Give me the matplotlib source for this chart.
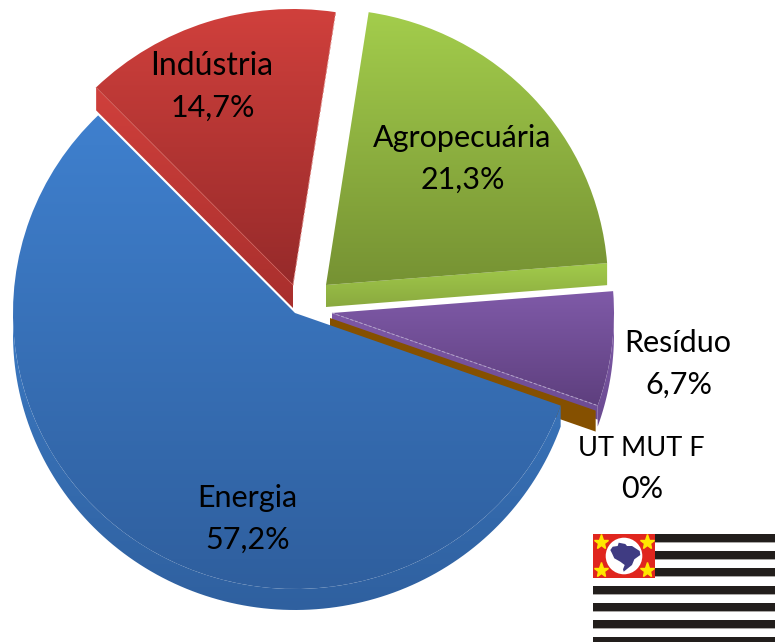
import matplotlib
matplotlib.use("Agg")
import matplotlib.pyplot as plt
import numpy as np
from matplotlib.colors import LinearSegmentedColormap
from matplotlib.patches import Circle, Polygon, Rectangle
from matplotlib.transforms import Affine2D

# values, clockwise from the top
categorias = ["Agropecuária", "Resíduo", "UT MUT F", "Energia", "Indústria"]
valores = [21.3, 6.7, 0, 57.2, 14.7]
rotulos = ["21,3%", "6,7%", "0%", "57,2%", "14,7%"]

# label position, pixels (baseline of the first line)
texto_x = [462, 678, 641, 247, 212]
texto_y = [147, 352, 456, 507, 75]
tamanhos = [22, 22, 19.5, 22, 23]

RX, RY, DEPTH = 282, 276, 21
START = 81.3

plt.rcParams["font.family"] = ["Lato", "DejaVu Sans"]

fig = plt.figure(figsize=(7.77, 6.42), dpi=100)
ax = fig.add_axes([0, 0, 1, 1])

wedges, _ = ax.pie(valores, startangle=START, counterclock=False, radius=1)

total = sum(valores)
limites = START - np.cumsum([0] + valores) * 360 / total


def ponto(cx, cy, t, dy=0):
    t = np.radians(t)
    return cx + RX * np.cos(t), cy - RY * np.sin(t) + dy


def gradiente(patch, c1, c2, y0, y1, z):
    cmap = LinearSegmentedColormap.from_list("g", [c1, c2])
    g = np.linspace(0, 1, 256).reshape(-1, 1)
    im = ax.imshow(g, cmap=cmap, extent=(0, 777, y1, y0), aspect="auto",
                   zorder=z, interpolation="bilinear")
    patch.set_zorder(z)
    patch.set_facecolor("none")
    patch.set_edgecolor("none")
    if patch.axes is None:
        ax.add_patch(patch)
    im.set_clip_path(patch)


def topo(i, cx, cy, c1, c2, z):
    w = wedges[i]
    w.set_transform(Affine2D().scale(RX, -RY).translate(cx, cy) + ax.transData)
    t = np.radians(np.linspace(limites[i + 1], limites[i], 200))
    ys = np.append(cy - RY * np.sin(t), cy)
    gradiente(w, c1, c2, ys.min(), ys.max(), z)


def aro(cx, cy, t1, t2, c1, c2, z, d=DEPTH):
    t = np.linspace(t1, t2, 120)
    a = [ponto(cx, cy, v) for v in t]
    b = [ponto(cx, cy, v, d) for v in t[::-1]]
    p = Polygon(a + b, closed=True)
    ys = [q[1] for q in a + b]
    gradiente(p, c1, c2, min(ys), max(ys), z)


def corte(cx, cy, t, c1, c2, z, d=DEPTH):
    q = ponto(cx, cy, t)
    p = Polygon([(cx, cy), q, (q[0], q[1] + d), (cx, cy + d)], closed=True)
    ys = [cy, q[1], q[1] + d, cy + d]
    gradiente(p, c1, c2, min(ys), max(ys), z)


# Resíduo
aro(332, 313, 0, limites[2], "#7f5aa8", "#6a4a90", 1)
corte(332, 313, limites[2], "#7d58a6", "#6c4b92", 1, d=14)
topo(1, 332, 313, "#7f5aa8", "#5e3f7e", 2)
q = ponto(332, 313, limites[2])
ax.plot([332, q[0]], [313, q[1]], color="#b3a3cb", lw=0.7, ls=(0, (3, 2)), zorder=2.5)

# UT MUT F, no area, only its cut
q = ponto(330, 318, limites[3])
ax.add_patch(Polygon([(330, 318), q, (q[0], q[1] + DEPTH), (330, 318 + DEPTH)],
                     closed=True, fc="#855000", ec="none", zorder=3))

# Agropecuária
corte(326, 285, limites[1], "#a2cb4b", "#8aa93f", 4, d=22)
topo(0, 326, 285, "#a3cd4c", "#769233", 5)

# Indústria
corte(293, 285, limites[4], "#d0403c", "#a82f2d", 4, d=23)
topo(4, 293, 285, "#d0403c", "#962a2a", 5)
q = ponto(293, 285, limites[5])
ax.plot([293, q[0]], [285, q[1]], color="#e08a86", lw=0.7, ls=(0, (3, 2)), zorder=5.5)
q = ponto(293, 285, limites[4])
ax.plot([293, q[0]], [285, q[1]], color="#cf5f5a", lw=0.5, zorder=5.5)

# Energia
aro(295, 313, -180, limites[3], "#3c7ac3", "#2f609f", 6)
topo(3, 295, 313, "#3f80ce", "#2f5f9e", 7)

for i, cat in enumerate(categorias):
    ax.text(texto_x[i], texto_y[i], cat, ha="center", va="baseline",
            fontsize=tamanhos[i], color="black", zorder=10)
    ax.text(texto_x[i] + 1, texto_y[i] + 42, rotulos[i], ha="center", va="baseline",
            fontsize=22, color="black", zorder=10)

# flag
listras = [534, 551, 568, 586, 603, 620, 637]
for y in listras:
    ax.add_patch(Rectangle((593, y), 182, 8, fc="#221e1c", ec="none", zorder=11))
    ax.add_patch(Rectangle((593, y + 8), 182, 1, fc="#a8a6a4", ec="none", zorder=11))
ax.add_patch(Rectangle((593, 534), 62, 43.5, fc="#e0261e", ec="none", zorder=12))
ax.add_patch(Circle((624, 556), 18.3, fc="white", ec="none", zorder=13))
brasil = [(610.3, 550), (612.7, 546.7), (617.7, 546), (618.7, 542.7), (625.3, 544), (627, 546),
          (632, 546), (639.7, 551), (640.3, 555), (634.3, 559.3), (632, 565), (627, 569),
          (623.7, 571.7), (623, 569.3), (624.7, 565), (620.3, 561.7), (614.3, 558.3), (612, 553.3)]
ax.add_patch(Polygon(brasil, closed=True, fc="#3f3b82", ec="none", zorder=14))
ax.plot([600.7, 647.3, 600.7, 647.3], [542, 542, 569.7, 569.7], ls="none", marker="*",
        ms=11, mfc="#ffe800", mec="#ffe800", zorder=14)

ax.set_xlim(0, 777)
ax.set_ylim(642, 0)
ax.set_aspect("auto")
ax.axis("off")
fig.savefig("out.png", dpi=100)
